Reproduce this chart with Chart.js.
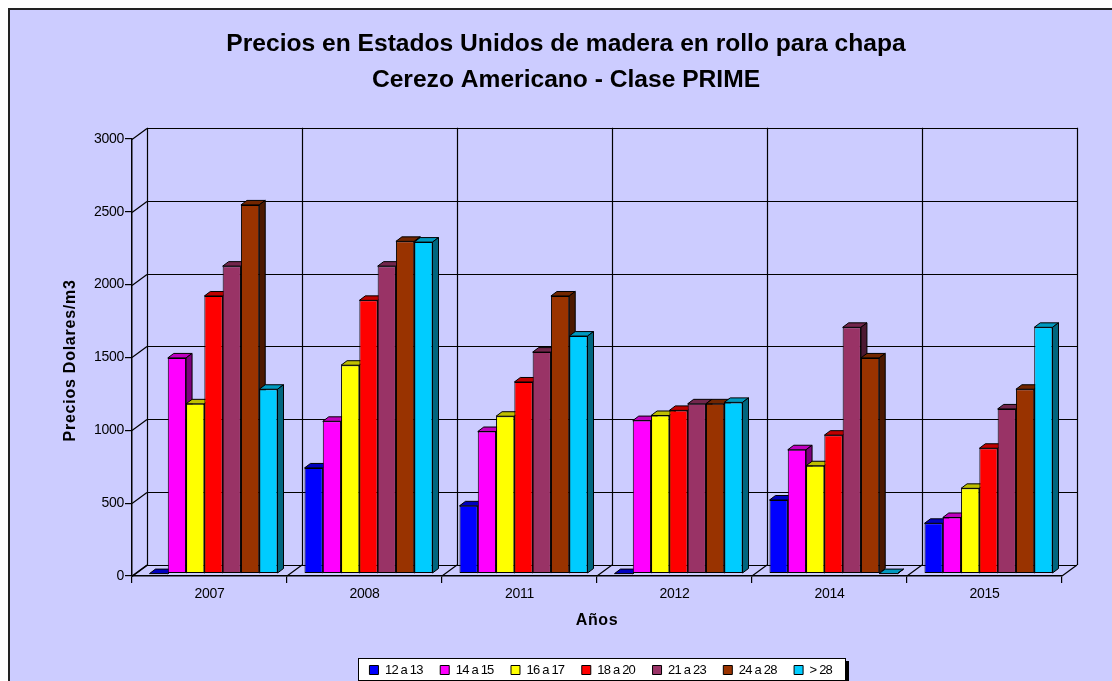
<!DOCTYPE html>
<html><head><meta charset="utf-8">
<style>html,body{margin:0;padding:0;background:#fff}canvas{display:block}</style>
<script src="https://cdn.jsdelivr.net/npm/chart.js@4"></script></head>
<body><div style="width:1112px;height:681px"><canvas id="c" width="1112" height="681"></canvas></div>
<script>
const years = ['2007','2008','2011','2012','2014','2015'];
const seriesNames = ['12 a 13','14 a 15','16 a 17','18 a 20','21 a 23','24 a 28','> 28'];
const s12a13 = [0,725,465,0,505,345];
const s14a15 = [1480,1045,975,1050,850,385];
const s16a17 = [1165,1430,1080,1085,740,585];
const s18a20 = [1905,1875,1315,1120,950,860];
const s21a23 = [2110,2110,1520,1165,1690,1130];
const s24a28 = [2530,2280,1905,1165,1480,1265];
const sOver28 = [1265,2275,1630,1175,0,1690];
const seriesColors = ['#0000FF','#FF00FF','#FFFF00','#FF0000','#993366','#993300','#00CCFF'];
const allSeries = [s12a13,s14a15,s16a17,s18a20,s21a23,s24a28,sOver28];

const DEPTH_X=15, DEPTH_Y=11, BAR_DX=6, BAR_DY=4.5, SHIFT_X=4, SHIFT_Y=-2.4;
const shade=(hex,f)=>{const n=parseInt(hex.slice(1),16);
  return `rgb(${((n>>16)&255)*f|0},${((n>>8)&255)*f|0},${(n&255)*f|0})`;};
const spaced=(obj,method,ctx,sp,dy=0)=>{const f=obj[method];
  obj[method]=function(...a){const old=ctx.letterSpacing;ctx.letterSpacing=sp;ctx.save();ctx.translate(0,dy);const r=f.apply(this,a);ctx.restore();ctx.letterSpacing=old;return r;};};

const scene={
  id:'scene',
  beforeLayout(chart){chart.ctx.letterSpacing='-0.8px';},
  afterLayout(chart){
    const c=chart.ctx,t=chart.titleBlock,l=chart.legend;
    t.left=20; t.right=1112;
    l.left=200; l.right=1001.5; l.top=646; l.bottom=681;
    if(!chart.$wrapped){chart.$wrapped=true;
      spaced(t,'draw',c,'0px');
      spaced(l,'draw',c,'-0.8px');
      spaced(chart.scales.x,'drawTitle',c,'0.6px',1);
      spaced(chart.scales.y,'drawTitle',c,'0.75px',3);
      spaced(chart.scales.x,'drawLabels',c,'-0.3px');
      spaced(chart.scales.y,'drawLabels',c,'-0.3px');
    }
  },
  beforeDraw(chart){
    const c=chart.ctx,{x,y}=chart.scales;
    c.save();
    c.fillStyle='#fff';c.fillRect(0,0,1112,681);
    c.fillStyle='#CCCCFF';c.strokeStyle='#222';c.lineWidth=2;
    c.fillRect(9,9,1120,690);c.strokeRect(9,9,1120,690);
    // legend box
    c.fillStyle='#000';c.fillRect(846,661,3,20);
    c.fillStyle='#fff';c.strokeStyle='#000';c.lineWidth=1;c.fillRect(358.5,658.5,487,22);c.strokeRect(358.5,658.5,487,22);
    // walls
    const L=x.left,R=x.right,T=y.top,B=y.bottom;
    const seg=(a,b,d,e)=>{c.beginPath();c.moveTo(a,b);c.lineTo(d,e);c.stroke();};
    c.strokeStyle='#000';c.lineWidth=1.2;
    y.ticks.forEach(tk=>{const p=Math.round(y.getPixelForValue(tk.value))+.5;
      seg(L,p,L+DEPTH_X,p-DEPTH_Y);
      seg(L+DEPTH_X,p-DEPTH_Y,R+DEPTH_X,p-DEPTH_Y);});
    const n=years.length, w=(R-L)/n;
    for(let i=0;i<=n;i++){const p=L+w*i;
      seg(p+DEPTH_X+.5,T-DEPTH_Y,p+DEPTH_X+.5,B-DEPTH_Y);
      seg(p,B,p+DEPTH_X,B-DEPTH_Y);}
    c.restore();
  },
  beforeDatasetsDraw(chart){
    const c=chart.ctx;
    c.save();c.translate(SHIFT_X,SHIFT_Y);
    c.lineWidth=1;c.strokeStyle='#000';
    const cnt=chart.data.labels.length;
    for(let k=0;k<cnt;k++){
      chart.data.datasets.forEach((ds,di)=>{
        const b=chart.getDatasetMeta(di).data[k];
        const l=b.x-b.width/2,r=b.x+b.width/2,t=b.y,base=b.base;
        c.fillStyle=shade(seriesColors[di],.75);
        c.beginPath();c.moveTo(l,t);c.lineTo(l+BAR_DX,t-BAR_DY);c.lineTo(r+BAR_DX,t-BAR_DY);c.lineTo(r,t);c.closePath();c.fill();c.stroke();
        c.fillStyle=shade(seriesColors[di],.5);
        c.beginPath();c.moveTo(r,t);c.lineTo(r+BAR_DX,t-BAR_DY);c.lineTo(r+BAR_DX,base-BAR_DY);c.lineTo(r,base);c.closePath();c.fill();c.stroke();
      });
    }
  },
  afterDatasetsDraw(chart){chart.ctx.restore();}
};

new Chart(document.getElementById('c'),{
  type:'bar',
  plugins:[scene],
  data:{labels:years,datasets:seriesNames.map((name,i)=>({
    label:name,data:allSeries[i],backgroundColor:seriesColors[i],borderColor:'#000',
    borderWidth:1,borderSkipped:false,clip:false,
    categoryPercentage:0.826,barPercentage:1}))},
  options:{
    responsive:false,animation:false,
    layout:{padding:{left:0,right:50,top:0,bottom:0}},
    plugins:{
      tooltip:{enabled:false},
      title:{display:true,text:['Precios en Estados Unidos de madera en rollo para chapa','Cerezo Americano - Clase PRIME'],
        color:'#000',font:{family:'"Liberation Sans"',size:24.6,weight:'bold',lineHeight:1.46},padding:{top:26,bottom:41}},
      legend:{position:'bottom',labels:{color:'#000',boxWidth:9,boxHeight:9,padding:17.5,
        font:{family:'"Liberation Sans"',size:13}}}
    },
    scales:{
      x:{offset:true,
        afterFit(s){s.height=105-s.chart.legend.height;},
        grid:{drawOnChartArea:false,tickLength:7,color:'#000',lineWidth:1.2},
        border:{color:'#000',width:1.5},
        ticks:{color:'#000',padding:3,font:{family:'"Liberation Sans"',size:14},maxRotation:0},
        title:{display:true,text:'Años',color:'#000',font:{family:'"Liberation Sans"',size:16,weight:'bold'},padding:{top:0,bottom:11}}},
      y:{min:0,max:3000,
        afterFit(s){s.width=132;},
        grid:{drawOnChartArea:false,tickLength:7,color:'#000',lineWidth:1.2},
        border:{color:'#000',width:1.5},
        ticks:{stepSize:500,color:'#000',padding:1,format:{useGrouping:false},font:{family:'"Liberation Sans"',size:14}},
        title:{display:true,text:'Precios Dolares/m3',color:'#000',font:{family:'"Liberation Sans"',size:16,weight:'bold'},padding:{top:61,bottom:0}}}
    }
  }
});
</script></body></html>
